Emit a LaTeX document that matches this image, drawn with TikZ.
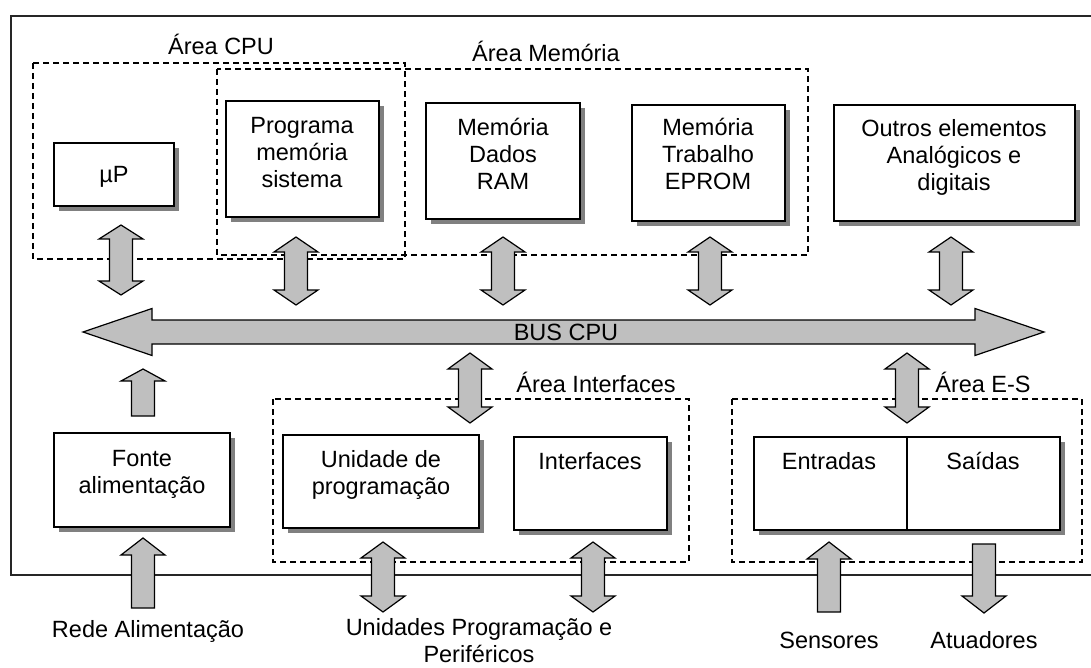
\documentclass[tikz,border=0pt]{standalone}
\usepackage{fontspec}
\setmainfont{Liberation Sans}
\usetikzlibrary{calc,shadows}
\newcommand\fatDbl[3]{%
  \draw[fat] (#1) -- ($(#1)+(22,#3)$) -- ($(#1)+(11.5,#3)$) -- ($(#2)+(11.5,-#3)$) -- ($(#2)+(22,-#3)$) -- (#2)
    -- ($(#2)+(-22,-#3)$) -- ($(#2)+(-11.5,-#3)$) -- ($(#1)+(-11.5,#3)$) -- ($(#1)+(-22,#3)$) -- cycle;}
\newcommand\fatUp[3]{%
  \draw[fat] (#1) -- ($(#1)+(22,#3)$) -- ($(#1)+(11.5,#3)$) -- ($(#2)+(11.5,0)$) -- ($(#2)+(-11.5,0)$)
    -- ($(#1)+(-11.5,#3)$) -- ($(#1)+(-22,#3)$) -- cycle;}
\newcommand\fatDown[3]{%
  \draw[fat] ($(#1)+(-11.5,0)$) -- ($(#1)+(11.5,0)$) -- ($(#2)+(11.5,-#3)$) -- ($(#2)+(22,-#3)$) -- (#2)
    -- ($(#2)+(-22,-#3)$) -- ($(#2)+(-11.5,-#3)$) -- cycle;}
\begin{document}
\begin{tikzpicture}[x=1pt,y=-1pt,
  every node/.style={font=\fontsize{23.5}{27}\selectfont, inner sep=0pt},
  box/.style={draw, line width=1.3pt, fill=white, rectangle,
    general shadow={shadow xshift=5pt, shadow yshift=-5pt, fill=black!50, opacity=1}},
  area/.style={draw, dash pattern=on 6pt off 4pt, line width=1.2pt},
  fat/.style={draw, line width=1.2pt, fill=black!25, line join=miter},
  lbl/.style={anchor=base, align=center}]
\fill[white] (0,0) rectangle (1091,668);
\useasboundingbox (0,0) rectangle (1091,668);
% outer frame
\draw[line width=1.6pt, black!85] (1100,16) -- (11,16) -- (11,575) -- (1100,575);
% dashed areas
\draw[area] (33,63) rectangle (405,259);
\draw[area] (217,69) rectangle (808,255);
\draw[area] (273,399) rectangle (689,562);
\draw[area] (732,399) rectangle (1082,562);
\node[lbl] (lcpu) at (221,55) {Área CPU};
\node[lbl] (lmem) at (546,62) {Área Memória};
\node[lbl] (lint) at (596,392) {Área Interfaces};
\node[lbl] (les) at (983,392) {Área E-S};
% arrow end coordinates
\coordinate (a1t) at (121,225); \coordinate (a1b) at (121,295);
\coordinate (a2t) at (296,237); \coordinate (a2b) at (296,305);
\coordinate (a3t) at (503,237); \coordinate (a3b) at (503,305);
\coordinate (a4t) at (710,237); \coordinate (a4b) at (710,305);
\coordinate (a5t) at (951,237); \coordinate (a5b) at (951,305);
\coordinate (a6t) at (470,353); \coordinate (a6b) at (470,423);
\coordinate (a7t) at (907,353); \coordinate (a7b) at (907,423);
\coordinate (a8t) at (383,542); \coordinate (a8b) at (383,612);
\coordinate (a9t) at (593,542); \coordinate (a9b) at (593,612);
\coordinate (fut) at (143,369); \coordinate (fub) at (143,416);
\coordinate (rut) at (143,538); \coordinate (rub) at (143,608);
\coordinate (sut) at (829,542); \coordinate (sub) at (829,612);
\coordinate (adt) at (984,544); \coordinate (adb) at (984,613);
\coordinate (busL) at (83,332); \coordinate (busR) at (1044,332);
\fatDbl{a1t}{a1b}{14}
\fatDbl{a2t}{a2b}{15}
\fatDbl{a3t}{a3b}{15}
\fatDbl{a4t}{a4b}{15}
\fatDbl{a5t}{a5b}{15}
\fatDbl{a6t}{a6b}{16}
\fatDbl{a7t}{a7b}{16}
\fatDbl{a8t}{a8b}{16}
\fatDbl{a9t}{a9b}{16}
\fatUp{fut}{fub}{12}
\fatUp{rut}{rub}{17}
\fatUp{sut}{sub}{17}
\fatDown{adt}{adb}{17}
% bus
\draw[fat] (busL) -- ($(busL)+(69,-23.5)$) -- ($(busL)+(69,-12)$) -- ($(busR)+(-69,-12)$) -- ($(busR)+(-69,-23.5)$) -- (busR)
  -- ($(busR)+(-69,23.5)$) -- ($(busR)+(-69,12)$) -- ($(busL)+(69,12)$) -- ($(busL)+(69,23.5)$) -- cycle;
\node[lbl] (tbus) at (566,340) {BUS CPU};
% boxes
\node[box, minimum width=120, minimum height=63] (up) at (114,174.5) {};
\node[box, minimum width=153, minimum height=116] (prog) at (302.5,159) {};
\node[box, minimum width=154, minimum height=116] (ram) at (503,161) {};
\node[box, minimum width=153, minimum height=116] (eprom) at (708.5,163) {};
\node[box, minimum width=241, minimum height=116] (outros) at (954.5,163) {};
\node[box, minimum width=176, minimum height=94] (fonte) at (142,480) {};
\node[box, minimum width=196, minimum height=93] (unid) at (381,481.5) {};
\node[box, minimum width=153, minimum height=93] (intf) at (590.5,483.5) {};
\node[box, minimum width=153, minimum height=93] (entr) at (830.5,483.5) {};
\node[box, minimum width=153, minimum height=93] (said) at (983.5,483.5) {};
% box texts (anchor=base puts the LAST line on the given baseline)
\node (tup) at (114,177) {µP};
\node[lbl] (tprog) at (302,188) {Programa\\memória\\sistema};
\node[lbl] (tram) at (503,190) {Memória\\Dados\\RAM};
\node[lbl] (teprom) at (708,190) {Memória\\Trabalho\\EPROM};
\node[lbl] (toutros) at (954,191) {Outros elementos\\Analógicos e\\digitais};
\node[lbl] (tfonte) at (142,493) {Fonte\\alimentação};
\node[lbl] (tunid) at (381,494) {Unidade de\\programação};
\node[lbl] (tintf) at (590,469) {Interfaces};
\node[lbl] (tentr) at (829,469) {Entradas};
\node[lbl] (tsaid) at (983,469) {Saídas};
% outside labels
\node[lbl] (trede) at (148,637) {Rede Alimentação};
\node[lbl] (tper) at (479,662) {Unidades Programação e\\Periféricos};
\node[lbl] (tsens) at (829,648) {Sensores};
\node[lbl] (tatu) at (984,648) {Atuadores};
\end{tikzpicture}
\end{document}
